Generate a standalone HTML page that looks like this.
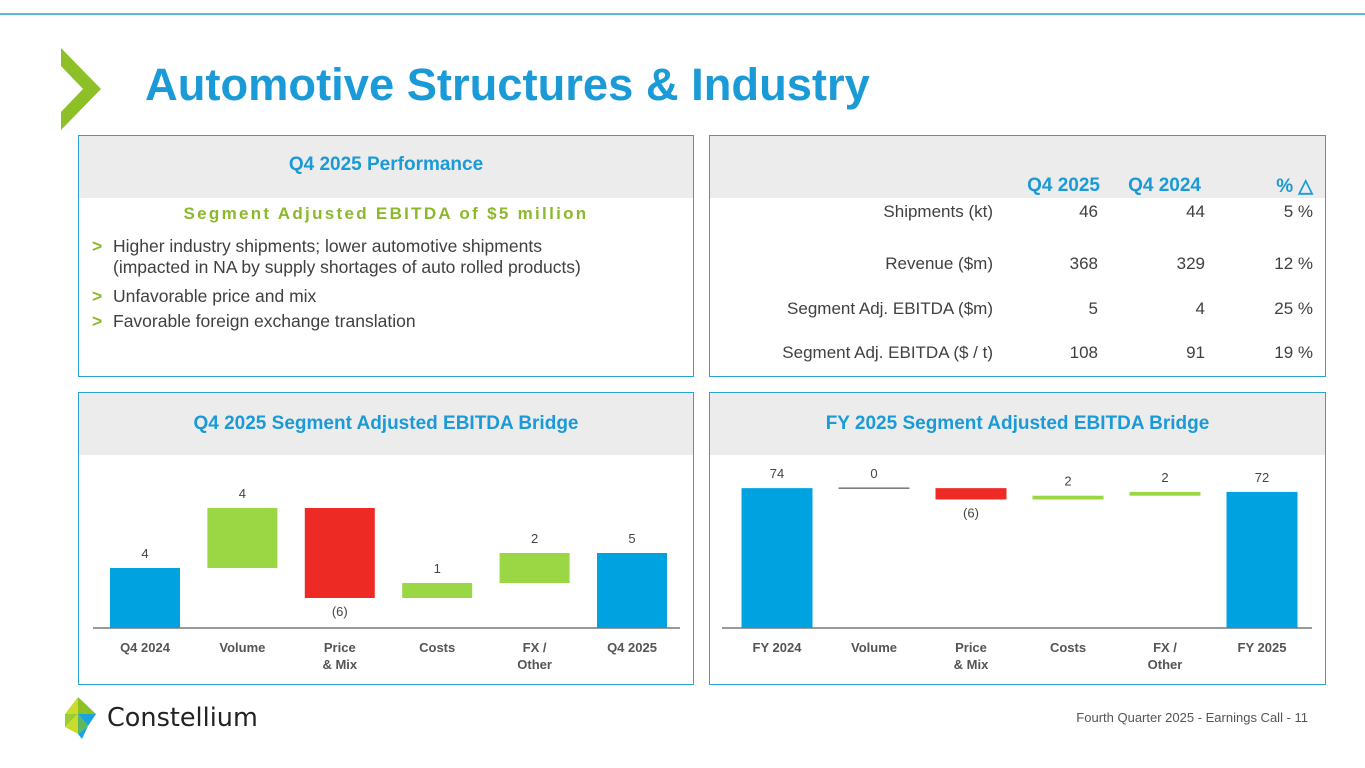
<!DOCTYPE html>
<html><head><meta charset="utf-8"><style>
*{margin:0;padding:0;box-sizing:border-box}
body{width:1365px;height:768px;background:#fff;position:relative;overflow:hidden;font-family:"Liberation Sans",Arial,sans-serif;color:#404040}
.abs{position:absolute}
.panel{position:absolute;border:1.5px solid #29a3d6;background:#fff}
.hdr{position:absolute;left:0;right:0;top:0;height:62px;background:#ececec;color:#1a9ad6;font-weight:bold;font-size:19px;text-align:center;line-height:62px}
.bul{position:absolute;left:34px;font-size:17.5px;color:#404040;line-height:21px}
.bul b{color:#8cb82b;position:absolute;left:-21px}
.c{position:absolute;font-size:17px;text-align:right}
</style></head><body>
<div class="abs" style="left:0;top:13px;width:1365px;height:2px;background:#5db9dc"></div>
<svg class="abs" style="left:0;top:0" width="120" height="140"><polygon points="61,48 101,89 61,130 61,112 83,89 61,66" fill="#8cc026"/></svg>
<div class="abs" style="left:145px;top:59px;font-size:45.3px;font-weight:bold;color:#1a9ad6">Automotive Structures &amp; Industry</div>

<div class="panel" style="left:78px;top:135px;width:616px;height:242px">
 <div class="hdr" style="line-height:58px">Q4 2025 Performance</div>
 <div class="abs" style="left:0;right:0;top:68px;text-align:center;color:#8cb82b;font-weight:bold;font-size:17px;letter-spacing:2.3px">Segment Adjusted EBITDA of $5 million</div>
 <div class="bul" style="top:100px"><b>&gt;</b>Higher industry shipments; lower automotive shipments<br>(impacted in NA by supply shortages of auto rolled products)</div>
 <div class="bul" style="top:150px"><b>&gt;</b>Unfavorable price and mix</div>
 <div class="bul" style="top:175px"><b>&gt;</b>Favorable foreign exchange translation</div>
</div>

<div class="panel" style="left:709px;top:135px;width:617px;height:242px">
 <div class="hdr"></div>
</div>
<div id="tbl"></div>

<div class="panel" style="left:78px;top:392px;width:616px;height:293px"><div class="hdr">Q4 2025 Segment Adjusted EBITDA Bridge</div></div>
<div class="panel" style="left:709px;top:392px;width:617px;height:293px"><div class="hdr">FY 2025 Segment Adjusted EBITDA Bridge</div></div>
<svg id="ch" class="abs" style="left:0;top:0" width="1365" height="768"></svg>

<svg class="abs" style="left:62px;top:694px" width="40" height="46">
<polygon points="16,3 34,20 16,20" fill="#8cc026"/><polygon points="3,20 16,3 16,20" fill="#c9dc2b"/><polygon points="16,20 34,20 26,32" fill="#1aa3dc"/><polygon points="3,20 16,20 3,33" fill="#9acd32"/><polygon points="16,20 26,32 16,40" fill="#5cb85c"/><polygon points="3,33 16,20 16,40" fill="#c9dc2b"/><polygon points="16,40 26,32 20,45" fill="#1aa3dc"/></svg>
<div class="abs" style="left:107px;top:703px;font-size:25.5px;color:#222;font-family:'DejaVu Sans','Liberation Sans',sans-serif">Constellium</div>
<div class="abs" style="left:1000px;top:710px;width:308px;text-align:right;font-size:13px;color:#555">Fourth Quarter 2025 - Earnings Call - 11</div>

<script>
const rowLabels=["Shipments (kt)","Revenue ($m)","Segment Adj. EBITDA  ($m)","Segment Adj. EBITDA ($ / t)"];
const q425=["46","368","5","108"];
const q424=["44","329","4","91"];
const pct=["5 %","12 %","25 %","19 %"];
const colHeads=["Q4 2025","Q4 2024","% △"];
const q4Cats=["Q4 2024","Volume","Price\n& Mix","Costs","FX /\nOther","Q4 2025"];
const q4Vals=[4,4,-6,1,2,5];
const q4Labels=["4","4","(6)","1","2","5"];
const fyCats=["FY 2024","Volume","Price\n& Mix","Costs","FX /\nOther","FY 2025"];
const fyVals=[74,0,-6,2,2,72];
const fyLabels=["74","0","(6)","2","2","72"];

const tbl=document.getElementById('tbl');
const rowY=[202,254,299,343];
function cell(txt,right,top,color,bold,name){const d=document.createElement('div');d.className='c';d.style.right=(1365-right)+'px';d.style.top=top+'px';if(color)d.style.color=color;if(bold){d.style.fontWeight='bold';d.style.fontSize='19px'}d.textContent=txt;


tbl.appendChild(d);}
const colR=[1098,1205,1313];
colHeads.forEach((h,i)=>cell(h,i==2?1313:colR[i]+(i==0?2:-4),175,'#1a9ad6',true,'column-header'));
rowLabels.forEach((l,i)=>{cell(l,993,rowY[i],null,false,'row-label');cell(q425[i],1098,rowY[i],null,false,'q4-2025-value');cell(q424[i],1205,rowY[i],null,false,'q4-2024-value');cell(pct[i],1313,rowY[i],null,false,'pct-change-value');});

const svg=document.getElementById('ch');const NS='http://www.w3.org/2000/svg';
function el(t,a,name){const e=document.createElementNS(NS,t);for(const k in a)e.setAttribute(k,a[k]);


svg.appendChild(e);return e;}
function bridge(cats,vals,labels,x0,step,base,scale,bw,axL,axR,pre){
 const y=v=>base-v*scale;
 el('line',{x1:axL,x2:axR,y1:base,y2:base,stroke:'#999','stroke-width':2},pre+'-x-axis');
 let run=0;
 vals.forEach((v,i)=>{
  const cx=x0+i*step;let top,bot,col;
  if(i==0||i==vals.length-1){top=y(v);bot=base;col='#00a3e0';run=v;}
  else{const a=run,b=run+v;top=y(Math.max(a,b));bot=y(Math.min(a,b));col=v<0?'#ee2a24':'#9bd745';run=b;}
  if(v===0&&i>0&&i<vals.length-1){el('line',{x1:cx-bw/2,x2:cx+bw/2,y1:top,y2:top,stroke:'#333','stroke-width':1},pre+'-bar-'+i);}
  else el('rect',{x:cx-bw/2,y:top,width:bw,height:Math.max(bot-top,1),fill:col},pre+'-bar-'+i);
  const ly=v<0?bot+18:top-10;
  const t=el('text',{x:cx,y:ly,'text-anchor':'middle','font-size':13,fill:'#444','font-family':'Liberation Sans'},pre+'-value-label');t.textContent=labels[i];
  cats[i].split('\n').forEach((s,j)=>{const c=el('text',{x:cx,y:base+24+j*17,'text-anchor':'middle','font-size':13,'font-weight':'bold',fill:'#555','font-family':'Liberation Sans'},pre+'-category-label');c.textContent=s;});
 });
}
bridge(q4Cats,q4Vals,q4Labels,145,97.4,628,15,70,93,680,'q4');
bridge(fyCats,fyVals,fyLabels,777,97,628,1.89,71,722,1312,'fy');
</script>
</body></html>
